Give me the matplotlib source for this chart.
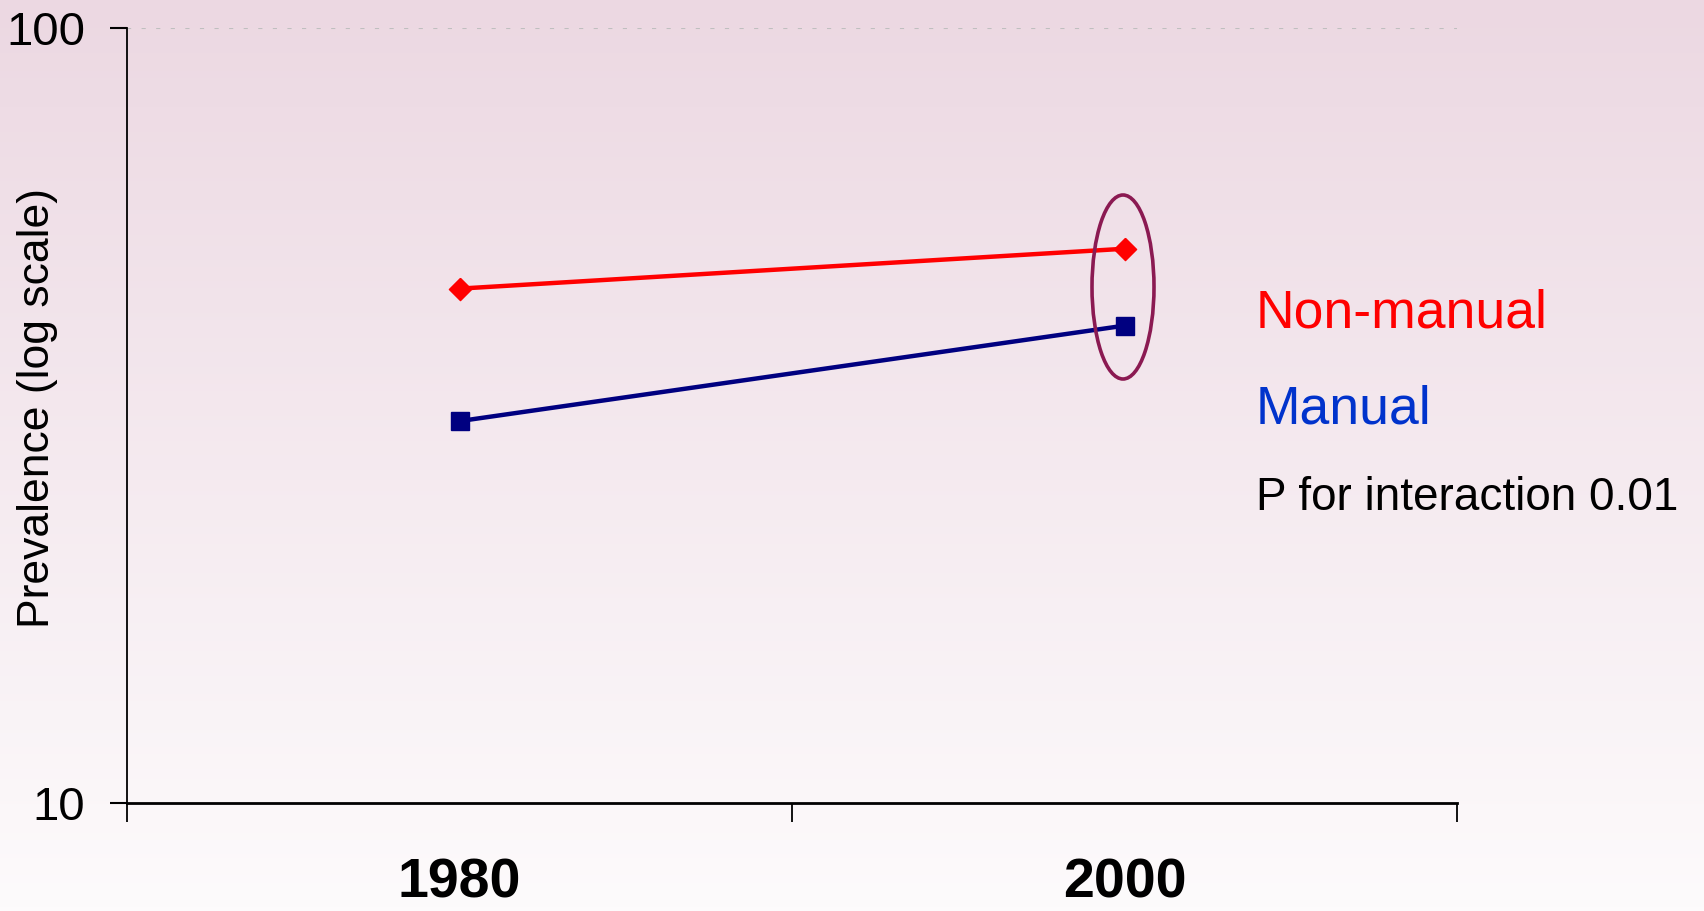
import matplotlib
matplotlib.use('Agg')
import matplotlib.pyplot as plt
import numpy as np
from matplotlib.patches import Ellipse

# values (prevalence, log scale)
years = ['1980', '2000']
non_manual = [46.1, 51.9]
manual = [31.1, 41.3]
y_ticks = [10, 100]

plt.rcParams['font.family'] = ['Liberation Sans', 'DejaVu Sans']

fig = plt.figure(figsize=(17.04, 9.11), dpi=100)

# pink to white background gradient over the whole figure
bg = fig.add_axes([0, 0, 1, 1], zorder=-10)
top = np.array([236, 216, 226]) / 255
bottom = np.array([253, 251, 252]) / 255
t = np.linspace(0, 1, 256)[:, None]
grad = (top * (1 - t) + bottom * t)[:, None, :]
bg.imshow(grad, aspect='auto', extent=[0, 1, 0, 1])
bg.axis('off')

ax = fig.add_axes([127 / 1704, 1 - 803 / 911, (1457 - 127) / 1704, (803 - 28) / 911])
ax.patch.set_alpha(0)

x = np.arange(len(years)) + 0.5
diamond = [(0, 1), (1, 0), (0, -1), (-1, 0), (0, 1)]
ax.plot(x, non_manual, color='#ff0000', lw=3.2, marker=diamond, markersize=16, zorder=3)
ax.plot(x, manual, color='#000080', lw=3.2, marker='s', markersize=13.5, zorder=3)

ax.set_yscale('log')
ax.set_ylim(10, 100)
ax.set_yticks(y_ticks)
ax.set_yticklabels([str(v) for v in y_ticks])
ax.yaxis.set_minor_locator(matplotlib.ticker.NullLocator())
ax.set_xlim(0, 2)
ax.set_xticks([0, 1, 2])
ax.set_xticklabels([])
ax.set_xticks(x, minor=True)
ax.set_xticklabels(years, minor=True, fontsize=40, fontweight='bold')
ax.tick_params(axis='x', which='minor', length=0, pad=39)
ax.tick_params(axis='x', which='major', length=14, width=1.3, direction='out')
ax.tick_params(axis='y', which='major', length=12, width=1.5, labelsize=34, pad=18)

ax.axhline(100, color='#bfbfbf', lw=1.5, ls=(0, (2, 5)), zorder=1)

for side in ['top', 'right']:
    ax.spines[side].set_visible(False)
ax.spines['left'].set_linewidth(1.3)
ax.spines['bottom'].set_linewidth(2.0)

ax.set_ylabel('Prevalence (log scale)', fontsize=32)
ax.yaxis.set_label_coords(-0.052, 0.51)

# ellipse highlighting the 2000 points (figure pixel coords)
ell = Ellipse((1123 / 1704, 1 - 287 / 911), 62 / 1704, 184 / 911,
              transform=fig.transFigure, fill=False, edgecolor='#8b1a52', lw=2.6, zorder=4)
fig.patches.append(ell)

fig.text(1256 / 1704, 1 - 327 / 911, 'Non-manual', color='#ff0000', fontsize=38.5, va='baseline')
fig.text(1256 / 1704, 1 - 423 / 911, 'Manual', color='#0033cc', fontsize=38.5, va='baseline')
fig.text(1256 / 1704, 1 - 510 / 911, 'P for interaction 0.01', color='black', fontsize=33, va='baseline')

fig.savefig('out.png', dpi=100)
